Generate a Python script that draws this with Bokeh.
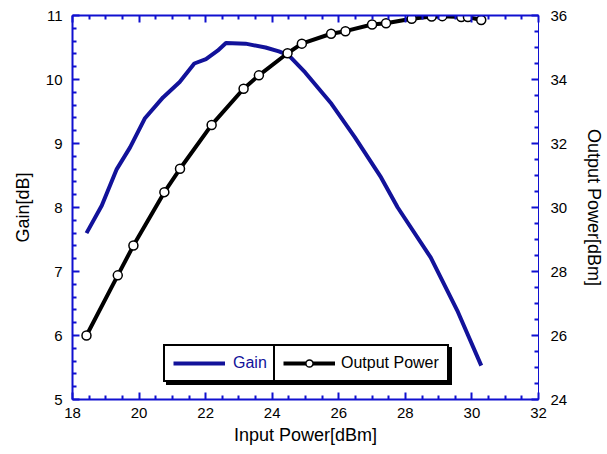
from bokeh.plotting import figure
from bokeh.models import Range1d, LinearAxis, Legend, LegendItem, FixedTicker
from bokeh.embed import file_html
from bokeh.resources import INLINE

# ---- data ----
gain_x = [18.42, 18.88, 19.33, 19.73, 20.17, 20.72, 21.22, 21.66, 22.01, 22.36,
          22.61, 23.20, 23.80, 24.20, 24.49, 24.99, 25.78, 26.48, 27.27, 27.77,
          28.76, 29.56, 30.28]
gain_db = [7.60, 8.03, 8.60, 8.94, 9.39, 9.72, 9.96, 10.25, 10.32, 10.45,
           10.57, 10.56, 10.50, 10.44, 10.38, 10.11, 9.62, 9.10, 8.47, 8.00,
           7.22, 6.39, 5.53]

pout_x = [18.42, 19.36, 19.83, 20.76, 21.23, 22.18, 23.14, 23.60, 24.46, 24.89,
          25.77, 26.20, 27.00, 27.42, 28.19, 28.79, 29.11, 29.68, 29.88, 30.28]
pout_dbm = [26.00, 27.88, 28.81, 30.48, 31.21, 32.58, 33.71, 34.13, 34.82, 35.12,
            35.43, 35.51, 35.72, 35.76, 35.90, 35.97, 35.98, 35.95, 35.95, 35.86]

x_ticks = [18, 20, 22, 24, 26, 28, 30, 32]
gain_ticks = [5, 6, 7, 8, 9, 10, 11]
pout_ticks = [24, 26, 28, 30, 32, 34, 36]

AX = "#1010D0"
GAIN_C = "#12129A"
FONT = "Liberation Sans"


def minors(ticks, n):
    out = []
    for a, b in zip(ticks[:-1], ticks[1:]):
        step = (b - a) / n
        out += [a + step * k for k in range(1, n)]
    return out


p = figure(width=607, height=450,
           x_range=Range1d(18, 32), y_range=Range1d(5, 11),
           output_backend="svg", toolbar_location=None,
           min_border_left=72, min_border_right=65,
           min_border_top=15, min_border_bottom=51)
p.extra_y_ranges = {"pout": Range1d(24, 36)}
p.xgrid.visible = False
p.ygrid.visible = False
p.outline_line_color = AX
p.outline_line_width = 1
p.background_fill_color = "white"
p.border_fill_color = "white"


def style(ax, lw=2):
    ax.axis_line_color = AX
    ax.axis_line_width = lw
    ax.major_tick_line_color = AX
    ax.minor_tick_line_color = AX
    ax.major_tick_line_width = 2
    ax.minor_tick_line_width = 2
    ax.major_tick_in = 7
    ax.major_tick_out = 0
    ax.minor_tick_in = 4
    ax.minor_tick_out = 0
    ax.major_label_text_font = FONT
    ax.major_label_text_font_size = "15px"
    ax.major_label_text_color = "black"
    ax.axis_label_text_font = FONT
    ax.axis_label_text_font_size = "18px"
    ax.axis_label_text_font_style = "normal"
    ax.axis_label_text_color = "black"


xa = p.xaxis[0]
style(xa)
xa.ticker = FixedTicker(ticks=x_ticks, minor_ticks=minors(x_ticks, 4))
xa.axis_label = "Input Power[dBm]"
xa.major_label_standoff = 8
xa.axis_label_standoff = 4

ya = p.yaxis[0]
style(ya)
ya.ticker = FixedTicker(ticks=gain_ticks, minor_ticks=minors(gain_ticks, 5))
ya.axis_label = "Gain[dB]"
ya.major_label_standoff = 10
ya.axis_label_standoff = 10

ra = LinearAxis(y_range_name="pout")
style(ra, 1)
ra.ticker = FixedTicker(ticks=pout_ticks, minor_ticks=minors(pout_ticks, 4))
ra.axis_label = "Output Power[dBm]"
ra.major_label_standoff = 12
ra.axis_label_standoff = 14
p.add_layout(ra, "right")

ta = LinearAxis()
style(ta)
ta.ticker = FixedTicker(ticks=x_ticks, minor_ticks=minors(x_ticks, 4))
ta.major_label_overrides = {t: "" for t in x_ticks}
ta.major_label_standoff = 0
p.add_layout(ta, "above")

gain_r = p.line(gain_x, gain_db, line_color=GAIN_C, line_width=4, line_join="round")
pout_l = p.line(pout_x, pout_dbm, y_range_name="pout", line_color="black", line_width=4,
                line_join="round")
pout_c = p.scatter(pout_x, pout_dbm, y_range_name="pout", marker="circle", size=9,
                   fill_color="white", line_color="black", line_width=1.5)

# shadow behind the legend
shadow = Legend(items=[LegendItem(label=" ", renderers=[gain_r])],
                location=(94, 14), orientation="horizontal",
                background_fill_color="black", background_fill_alpha=1,
                border_line_color="black", border_line_width=2, border_line_alpha=1,
                padding=0, margin=0, spacing=0,
                glyph_width=10, glyph_height=34, label_standoff=0,
                label_width=272, label_height=34,
                label_text_color="black", label_text_font=FONT,
                label_text_font_size="15px")
p.add_layout(shadow, "center")

leg_gain = Legend(items=[LegendItem(label="Gain", renderers=[gain_r])],
                  location=(91, 17), orientation="horizontal",
                  background_fill_color="white", background_fill_alpha=1,
                  border_line_color="black", border_line_width=2, border_line_alpha=1,
                  padding=8, margin=0, spacing=0,
                  glyph_width=52, glyph_height=18, label_standoff=8,
                  label_width=34, label_height=18,
                  label_text_color=GAIN_C, label_text_font=FONT,
                  label_text_font_size="16px")
p.add_layout(leg_gain, "center")

leg_pout = Legend(items=[LegendItem(label="Output Power", renderers=[pout_l, pout_c])],
                  location=(201, 17), orientation="horizontal",
                  background_fill_color="white", background_fill_alpha=1,
                  border_line_color="black", border_line_width=2, border_line_alpha=1,
                  padding=8, margin=0, spacing=0,
                  glyph_width=52, glyph_height=18, label_standoff=6,
                  label_width=98, label_height=18,
                  label_text_color="black", label_text_font=FONT,
                  label_text_font_size="16px")
p.add_layout(leg_pout, "center")

open("out.html", "w").write(file_html(p, INLINE))
